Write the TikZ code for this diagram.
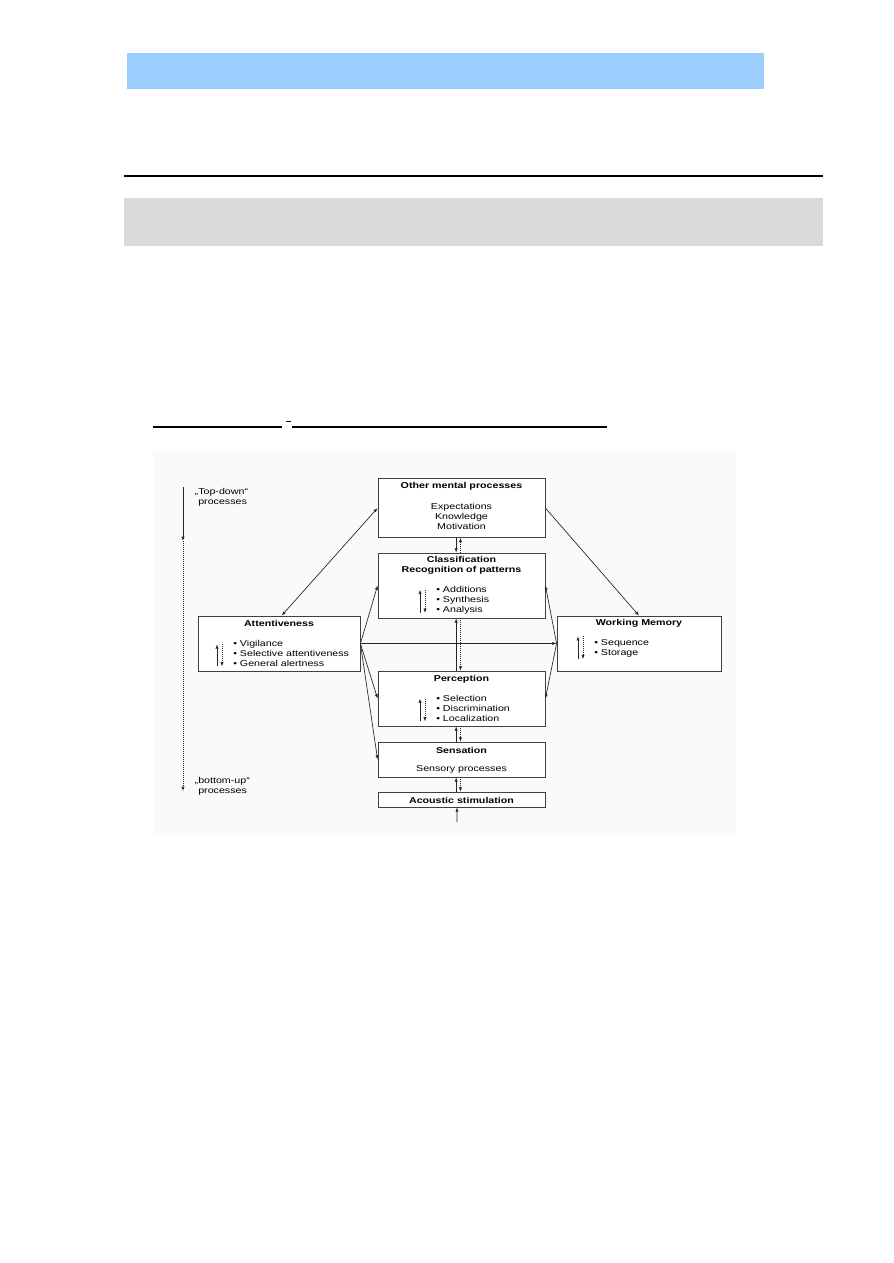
\documentclass[tikz,border=0pt]{standalone}
\usepackage{fontspec}
\usepackage{tikz}
\usetikzlibrary{arrows.meta,positioning,calc}
\newfontfamily\figfont[FakeStretch=1.25]{Liberation Sans}
\definecolor{headerBlue}{HTML}{9BCDFF}
\definecolor{bandGrey}{HTML}{D9D9D9}
\definecolor{figBack}{HTML}{FAFAFA}
\tikzset{
  procbox/.style={draw=black!75,line width=0.6pt,fill=white,inner sep=0pt,minimum width=125.25pt},
  boxtitle/.style={font=\figfont\fontsize{6.4}{7.5}\selectfont\bfseries,align=center,inner sep=0pt},
  boxtext/.style={font=\figfont\fontsize{6.4}{7.5}\selectfont,align=left,inner sep=0pt},
  flow/.style={->,draw=black!85,line width=0.5pt},
  backflow/.style={->,draw=black!85,line width=0.5pt,densely dotted},
}

\begin{document}
\begin{tikzpicture}[x=0.75pt,y=-0.75pt,>={Latex[length=3.2pt,width=2.4pt]}]
  \fill[white] (0,0) rectangle (893,1263);
  \useasboundingbox (0,0) rectangle (893,1263);
  % page furniture
  \fill[headerBlue] (127,53) rectangle (764,89);
  \draw[line width=1.1pt] (124,176) -- (823,176);
  \fill[bandGrey] (124,198) rectangle (823,246);
  \draw[line width=0.8pt] (153,427) -- (282,427);
  \draw[line width=0.6pt] (286,421) -- (291,421);
  \draw[line width=0.8pt] (292,427) -- (607,427);
  \fill[figBack] (153,451) rectangle (736,836);

  % boxes
  \node[procbox,minimum height=44.25pt] (other) at (461.5,508) {};
  \node[procbox,minimum height=48.75pt] (class) at (461.5,585.5) {};
  \node[procbox,minimum width=121.5pt,minimum height=41.25pt] (att) at (279,643.5) {};
  \node[procbox,minimum width=123pt,minimum height=41.25pt] (wm) at (639,643.5) {};
  \node[procbox,minimum height=41.25pt] (perc) at (461.5,698.5) {};
  \node[procbox,minimum height=26.25pt] (sens) at (461.5,759.5) {};
  \node[procbox,minimum height=11.25pt] (acou) at (461.5,799.5) {};

  % texts
  \node[boxtitle] (othertitle) at (461.5,486) {Other mental processes};
  \node[boxtext,align=center] (otheritems) at (461.5,516) {Expectations\\Knowledge\\Motivation};
  \node[boxtitle] (classtitle) at (461.5,565.5) {Classification\\Recognition of patterns};
  \node[boxtext,anchor=west] (classlist) at (436,600) {• Additions\\• Synthesis\\• Analysis};
  \node[boxtitle] (atttitle) at (279,623) {Attentiveness};
  \node[boxtext,anchor=west] (attlist) at (233,653) {• Vigilance\\• Selective attentiveness\\• General alertness};
  \node[boxtitle] (wmtitle) at (639,623) {Working Memory};
  \node[boxtext,anchor=west] (wmlist) at (594,648) {• Sequence\\• Storage};
  \node[boxtitle] (perctitle) at (461.5,679) {Perception};
  \node[boxtext,anchor=west] (perclist) at (436,708) {• Selection\\• Discrimination\\• Localization};
  \node[boxtitle] (senstitle) at (461.5,750) {Sensation};
  \node[boxtext] (sensitem) at (461.5,769) {Sensory processes};
  \node[boxtitle] (acoutitle) at (461.5,800) {Acoustic stimulation};

  % direction of processing
  \coordinate (tdstart) at (183,487);
  \coordinate (tdswitch) at (183,541);
  \coordinate (tdend) at (183,791);
  \draw[flow] (tdstart) -- (tdswitch);
  \draw[backflow] (tdswitch) -- (tdend);
  \node[boxtext,anchor=west] (topdown) at (198,497) {\leavevmode\llap{„}Top-down“\\processes};
  \node[boxtext,anchor=west] (bottomup) at (198,786.5) {\leavevmode\llap{„}bottom-up“\\processes};

  % connectors
  \draw[flow,<->] ([xshift=2pt]att.north) -- (other.west);
  \draw[flow] (other.east) -- (wm.north);
  \draw[flow] (att.east) -- (class.west);
  \draw[flow] (att.east) -- (wm.west);
  \draw[flow] (att.east) -- (perc.west);
  \draw[flow] (att.east) -- (sens.west);
  \draw[flow] (wm.west) -- (class.east);
  \draw[flow] (wm.west) -- (perc.east);

  \draw[flow] ([xshift=-4pt]other.south) -- ([xshift=-4pt]class.north);
  \draw[backflow] ([xshift=-0.75pt]class.north) -- ([xshift=-0.75pt]other.south);
  \foreach \lo/\hi in {perc/class,sens/perc,acou/sens} {
    \draw[flow] ([xshift=-4pt]\lo.north) -- ([xshift=-4pt]\hi.south);
    \draw[backflow] ([xshift=-0.75pt]\hi.south) -- ([xshift=-0.75pt]\lo.north);
  }
  \coordinate (stimulus) at (457,822);
  \draw[flow] (stimulus) -- ([xshift=-3.4pt]acou.south);

  % up/down pairs inside the boxes
  \foreach \lst/\top/\bot in {classlist/-3pt/1pt,attlist/-3.5pt/0pt,wmlist/2pt/-1.5pt,perclist/-3pt/0pt} {
    \draw[flow] ([xshift=-12pt,yshift=\bot]\lst.south west) -- ([xshift=-12pt,yshift=\top]\lst.north west);
    \draw[backflow] ([xshift=-8.25pt,yshift=\top]\lst.north west) -- ([xshift=-8.25pt,yshift=\bot]\lst.south west);
  }
\end{tikzpicture}
\end{document}
